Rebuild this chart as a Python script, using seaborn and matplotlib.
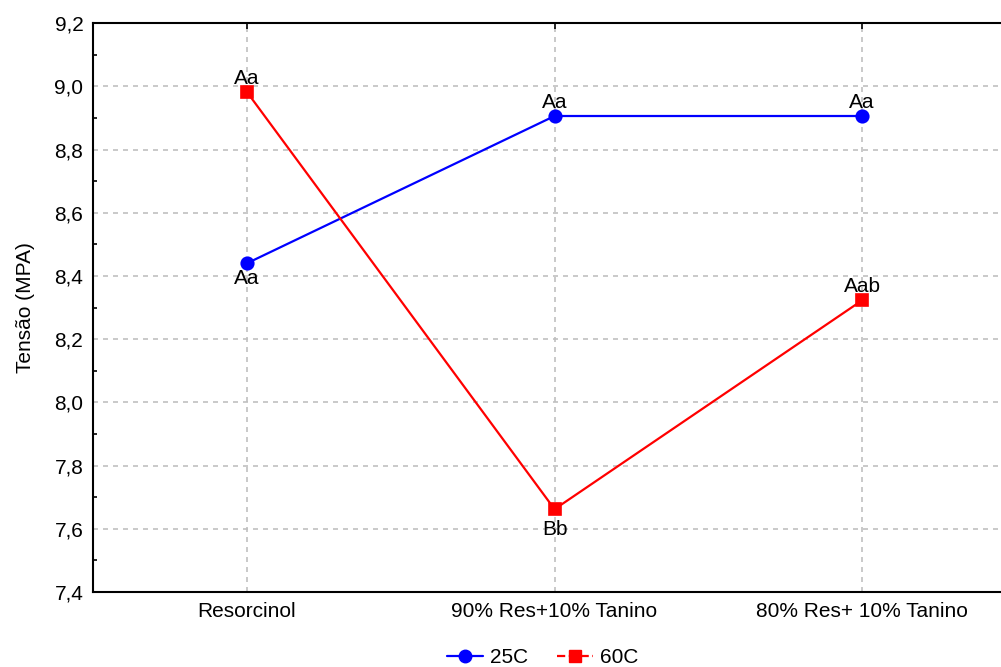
import matplotlib
matplotlib.use("agg")
import matplotlib.pyplot as plt
from matplotlib.lines import Line2D
from matplotlib.ticker import MultipleLocator, FuncFormatter
import pandas as pd
import seaborn as sns

categories = ["Resorcinol", "90% Res+10% Tanino", "80% Res+ 10% Tanino"]
temps = ["25C", "60C"]
vals_25 = [8.44, 8.906, 8.906]
vals_60 = [8.982, 7.662, 8.323]
labels_25 = ["Aa", "Aa", "Aa"]
labels_60 = ["Aa", "Bb", "Aab"]
# label above (+1) or below (-1) the point
side_25 = [-1, 1, 1]
side_60 = [1, -1, 1]

d = pd.DataFrame({
    "grupo": categories * 2,
    "temp": [temps[0]] * 3 + [temps[1]] * 3,
    "tensao": vals_25 + vals_60,
})

sns.set_style("white")
plt.rcParams["font.family"] = ["Liberation Sans", "DejaVu Sans"]
plt.rcParams["text.color"] = "black"
plt.rcParams["axes.labelcolor"] = "black"

FS = 15

fig = plt.figure(figsize=(10.01, 6.67), dpi=100)
ax = fig.add_axes([0.093, 0.1124, 0.922, 0.853])

pal = {"25C": "#0000ff", "60C": "#ff0000"}
sns.pointplot(data=d, x="grupo", y="tensao", hue="temp", order=categories,
              hue_order=temps, palette=pal, markers=["o", "s"],
              linestyles=["-", "-"], dodge=False, errorbar=None,
              markersize=9, linewidth=1.6, ax=ax, legend=False)

for i, c in enumerate(categories):
    for v, lab, s in ((vals_25[i], labels_25[i], side_25[i]),
                      (vals_60[i], labels_60[i], side_60[i])):
        if s > 0:
            ax.annotate(lab, (i, v), xytext=(0, 6), textcoords="offset points",
                        ha="center", va="baseline", fontsize=FS)
        else:
            off = -8 if lab == "Bb" else -4
            ax.annotate(lab, (i, v), xytext=(0, off), textcoords="offset points",
                        ha="center", va="top", fontsize=FS)

ax.set_xlim(-0.5, 2.5)
ax.set_ylim(7.4, 9.2)
ax.yaxis.set_major_locator(MultipleLocator(0.2))
ax.yaxis.set_minor_locator(MultipleLocator(0.1))
ax.yaxis.set_major_formatter(FuncFormatter(lambda y, p: f"{y:.1f}".replace(".", ",")))
ax.grid(True, which="major", color="#c0c0c0", linestyle=(0, (3, 3)), linewidth=1.2)
ax.set_axisbelow(True)

for side in ["left", "bottom", "top"]:
    ax.spines[side].set_linewidth(1.5)
    ax.spines[side].set_color("black")
ax.spines["right"].set_visible(False)

ax.tick_params(axis="both", which="both", direction="in", colors="black",
               labelsize=FS, top=True)
ax.tick_params(axis="both", which="major", length=4, width=1.2)
ax.tick_params(axis="y", which="minor", length=3, width=1.2, left=True)
ax.tick_params(axis="x", pad=7)
ax.tick_params(axis="y", pad=7)

ax.set_xlabel("")
ax.set_ylabel("Tensão (MPA)", fontsize=FS, labelpad=14)

handles = [
    Line2D([], [], color=pal["25C"], marker="o", linestyle="-", linewidth=1.6,
           markersize=9),
    Line2D([], [], color=pal["60C"], marker="s", linestyle="--", linewidth=1.6,
           markersize=9),
]
fig.legend(handles, temps, loc="center", bbox_to_anchor=(0.542, 0.014),
           ncol=2, frameon=False, fontsize=FS, handlelength=1.75,
           columnspacing=1.4, handletextpad=0.3)

plt.savefig("out.png", dpi=100)
